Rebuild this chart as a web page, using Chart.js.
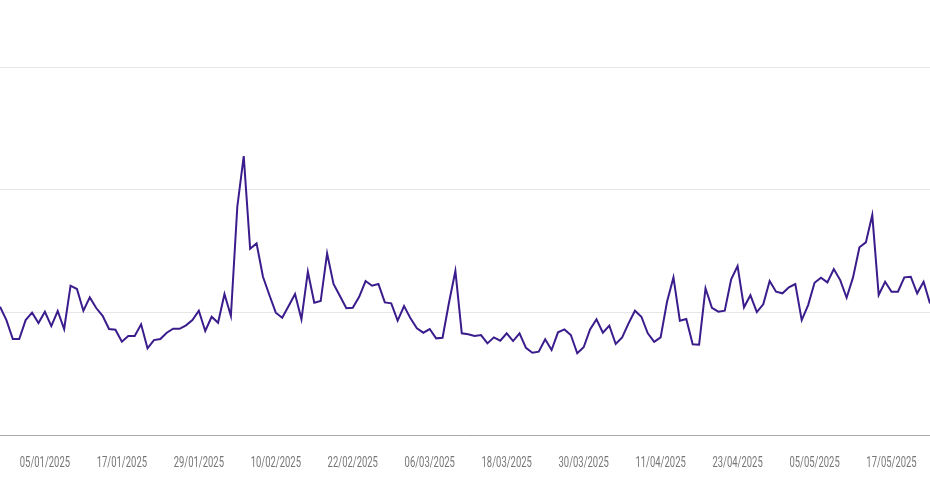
<!DOCTYPE html>
<html>
<head>
<meta charset="utf-8">
<script src="https://cdn.jsdelivr.net/npm/chart.js@4"></script>
<style>
  html, body { margin: 0; padding: 0; background: #fff; }
  #wrap { width: 930px; height: 500px; }
</style>
</head>
<body>
<div id="wrap"><canvas id="myChart" width="930" height="500"></canvas></div>
<script>
// daily series, 29/12/2024 .. 23/05/2025
const startDate = [2024, 11, 29];
const tickLabels = ['05/01/2025', '17/01/2025', '29/01/2025', '10/02/2025', '22/02/2025', '06/03/2025',
    '18/03/2025', '30/03/2025', '11/04/2025', '23/04/2025', '05/05/2025', '17/05/2025'];
const valores = [
    104.6, 93.7, 78.2, 78.2, 93.7, 99.7, 91.3, 100.5, 88.8, 101.1,
    86.4, 121.7, 119.0, 101.3, 112.2, 103.5, 97.2, 86.4, 85.8, 76.0,
    80.7, 80.7, 90.2, 70.7, 77.4, 78.2, 83.4, 86.6, 86.6, 89.4,
    93.7, 101.3, 84.8, 96.4, 91.5, 114.9, 97.0, 186.1, 227.4, 151.8,
    156.2, 129.0, 114.1, 99.7, 95.6, 105.1, 114.9, 94.3, 133.1, 107.8,
    109.2, 148.1, 123.1, 113.3, 103.3, 103.7, 112.7, 125.5, 121.7, 123.1,
    108.1, 107.3, 93.2, 105.1, 95.1, 87.0, 83.4, 86.4, 78.8, 79.3,
    107.8, 133.7, 82.9, 82.1, 80.7, 81.5, 74.7, 79.6, 76.9, 82.9,
    76.6, 82.9, 71.1, 67.1, 67.9, 78.0, 69.3, 83.7, 86.1, 81.5,
    66.6, 71.5, 86.1, 94.3, 83.4, 89.2, 74.2, 79.6, 91.0, 101.3,
    96.4, 82.9, 76.0, 79.6, 108.6, 128.5, 93.2, 94.5, 73.9, 73.6,
    119.6, 103.7, 100.5, 101.3, 126.9, 137.7, 104.1, 113.9, 100.2, 106.5,
    125.5, 116.8, 115.5, 120.4, 123.1, 93.7, 105.9, 124.1, 128.2, 124.4,
    135.3, 126.3, 111.9, 128.5, 153.0, 157.0, 179.3, 114.1, 124.9, 116.8,
    116.8, 128.5, 129.0, 115.5, 124.9, 107.3
];

function pad(n) {
    return n < 10 ? '0' + n : '' + n;
}

let legendas = [];
for (let i = 0; i < valores.length; i++) {
    const d = new Date(startDate[0], startDate[1], startDate[2] + i);
    legendas.push(pad(d.getDate()) + '/' + pad(d.getMonth() + 1) + '/' + d.getFullYear());
}

// the date labels in the reference use a narrow face, so they are drawn squeezed
const narrowTicks = {
    id: 'narrowTicks',
    afterDraw(chart) {
        const ctx = chart.ctx;
        const xs = chart.scales.x;
        ctx.save();
        ctx.fillStyle = '#767676';
        ctx.font = '15px Roboto, sans-serif';
        ctx.textAlign = 'center';
        ctx.textBaseline = 'middle';
        xs.ticks.forEach((t, i) => {
            const lab = legendas[t.value];
            if (!tickLabels.includes(lab)) return;
            ctx.save();
            ctx.translate(xs.getPixelForTick(i), xs.top + 28);
            ctx.scale(0.63, 1);
            ctx.fillText(lab, 0, 0);
            ctx.restore();
        });
        ctx.restore();
    }
};

new Chart('myChart', {
    type: 'line',
    data: {
        labels: legendas,
        datasets: [{
            data: valores,
            borderColor: '#3a1c8c',
            borderWidth: 2,
            pointRadius: 0,
            tension: 0,
            fill: false
        }]
    },
    options: {
        responsive: false,
        animation: false,
        layout: { padding: { left: 0, right: 0, top: 67, bottom: 0 } },
        plugins: {
            legend: { display: false },
            tooltip: { enabled: false }
        },
        scales: {
            x: {
                grid: { display: false, drawTicks: false },
                border: { display: true, color: '#a8a8a8', width: 1 },
                ticks: { display: false, autoSkip: false, maxRotation: 0 },
                afterFit(scale) {
                    scale.height = 65;
                    scale.paddingLeft = 0;
                    scale.paddingRight = 0;
                }
            },
            y: {
                min: 0,
                max: 300,
                grid: { color: '#e6e6e6', drawTicks: false },
                border: { display: false },
                ticks: { display: false, stepSize: 100 }
            }
        }
    },
    plugins: [narrowTicks]
});
</script>
</body>
</html>
